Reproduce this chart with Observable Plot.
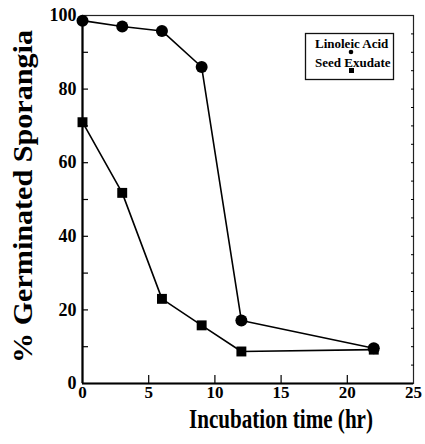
<!DOCTYPE html>
<html>
<head>
<meta charset="utf-8">
<script src="https://cdn.jsdelivr.net/npm/d3@7"></script>
<script src="https://cdn.jsdelivr.net/npm/@observablehq/plot@0.6"></script>
<style>
  html, body { margin: 0; padding: 0; background: #fff; }
  #wrap { position: relative; width: 425px; height: 444px; }
  #wrap svg { display: block; }
</style>
</head>
<body>
<div id="wrap"></div>
<script>
const time = [0, 3, 6, 9, 12, 22];
const linoleicAcid = [98.6, 97, 95.8, 86, 17.1, 9.6];
const seedExudate = [71, 51.8, 23, 15.8, 8.7, 9.2];
const xTicks = [0, 5, 10, 15, 20, 25];
const yTicks = [0, 20, 40, 60, 80, 100];
const seriesNames = ["Linoleic Acid", "Seed Exudate"];
const xLabel = "Incubation time (hr)";
const yLabel = "% Germinated Sporangia";

const lin = time.map((t, i) => ({t, v: linoleicAcid[i]}));
const exu = time.map((t, i) => ({t, v: seedExudate[i]}));
const font = "Liberation Serif, Times New Roman, serif";

const chart = Plot.plot({
  width: 425, height: 444,
  marginLeft: 82, marginRight: 12, marginTop: 15, marginBottom: 61,
  style: {fontFamily: font, background: "#fff", color: "#000"},
  x: {domain: [0, 25]},
  y: {domain: [0, 100]},
  marks: [
    Plot.frame({stroke: "#222", strokeWidth: 1.2}),
    Plot.ruleX([0], {strokeWidth: 2.2}),
    Plot.ruleY([0], {strokeWidth: 2.2}),
    Plot.axisX({ticks: xTicks, tickSize: 0, tickPadding: 2, fontSize: 17, fontWeight: "bold", label: null, tickFormat: d => String(d)}),
    Plot.axisX({ticks: [5, 10, 15, 20], tickSize: -8, tickFormat: () => "", label: null, strokeWidth: 1.2}),
    Plot.axisY({ticks: yTicks, tickSize: 0, tickPadding: 6, fontSize: 18, fontWeight: "bold", label: null, tickFormat: d => String(d)}),
    Plot.axisY({ticks: d3.range(10, 100, 10), tickSize: -6, tickFormat: () => "", label: null, strokeWidth: 1.2}),
    Plot.axisY({anchor: "right", ticks: d3.range(5, 100, 5), tickSize: -3, tickFormat: () => "", label: null}),
    Plot.line(lin, {x: "t", y: "v", stroke: "#000", strokeWidth: 1.6}),
    Plot.line(exu, {x: "t", y: "v", stroke: "#000", strokeWidth: 1.6}),
    Plot.dot(lin, {x: "t", y: "v", r: 6, fill: "#000", symbol: "circle"}),
    Plot.dot(exu, {x: "t", y: "v", r: 5.6, fill: "#000", symbol: "square"}),
    Plot.text([xLabel], {frameAnchor: "bottom", textAnchor: "middle", dx: 33, dy: 25, fontSize: 27, fontWeight: "bold", lineAnchor: "top"}),
    Plot.text([yLabel], {frameAnchor: "left", textAnchor: "middle", lineAnchor: "middle", rotate: -90, dx: -59, dy: -3, fontSize: 28, fontWeight: "bold"})
  ]
});

d3.select(chart).selectAll("text").each(function() {
  const t = this.textContent;
  if (t === xLabel) d3.select(this).attr("textLength", 184).attr("lengthAdjust", "spacingAndGlyphs");
  if (t === yLabel) d3.select(this).attr("textLength", 333).attr("lengthAdjust", "spacingAndGlyphs");
});

// legend (drawn into the same SVG)
const lg = d3.select(chart).append("g").attr("font-family", font).attr("font-weight", "bold")
  .attr("font-size", 13).attr("text-anchor", "start");
lg.append("rect").attr("x", 305.5).attr("y", 33.5).attr("width", 88).attr("height", 46)
  .attr("fill", "#fff").attr("stroke", "#111").attr("stroke-width", 1.3);
seriesNames.forEach((name, i) => {
  lg.append("text").attr("x", 315).attr("y", 48 + i * 19).attr("text-anchor", "start").text(name);
  if (i === 0) lg.append("circle").attr("cx", 351).attr("cy", 52).attr("r", 2.3).attr("fill", "#000");
  else lg.append("rect").attr("x", 349).attr("y", 68).attr("width", 5).attr("height", 5).attr("fill", "#000");
});

document.getElementById("wrap").appendChild(chart);
</script>
</body>
</html>
